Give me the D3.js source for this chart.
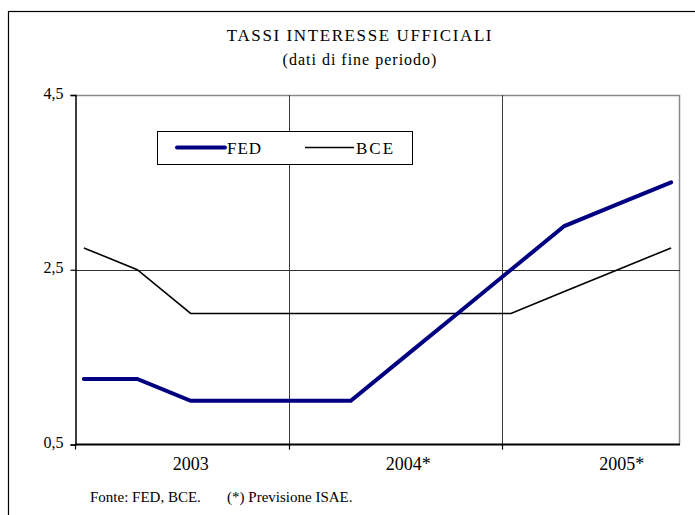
<!DOCTYPE html>
<html>
<head>
<meta charset="utf-8">
<script src="https://cdn.jsdelivr.net/npm/d3@7"></script>
<style>
  body { margin: 0; background: #fff; }
  svg { display: block; }
  svg text { font-family: "Liberation Serif", "DejaVu Serif", serif; }
</style>
</head>
<body>
<svg id="chart" width="695" height="515"></svg>
<script>
// quarterly end-of-period values (Jan, Apr, Jul, Oct)
const periods = ['2003-01', '2003-04', '2003-07', '2003-10',
                 '2004-01', '2004-04', '2004-07', '2004-10',
                 '2005-01', '2005-04', '2005-07', '2005-10'];
const fed = [1.25, 1.25, 1.0, 1.0, 1.0, 1.0, 1.5, 2.0, 2.5, 3.0, 3.25, 3.5];
const bce = [2.75, 2.5, 2.0, 2.0, 2.0, 2.0, 2.0, 2.0, 2.0, 2.25, 2.5, 2.75];

const years = ['2003', '2004*', '2005*'];
const yearLabelAt = ['2003-07', '2004-07', '2005-07'];
const yearStarts = ['2003-01', '2004-01', '2005-01'];
const yTicks = [0.5, 2.5, 4.5];

const svg = d3.select('#chart');
const serif = '"Liberation Serif", "DejaVu Serif", serif';
const margin = { left: 75, top: 95, right: 680, bottom: 444.5 };
const fmtMonth = d3.utcFormat('%Y-%m');
const months = d3.utcMonth.range(new Date(Date.UTC(2003, 0, 1)), new Date(Date.UTC(2005, 10, 1))).map(fmtMonth);

const x = d3.scaleBand().domain(months).range([margin.left, margin.right]);
const xc = (k) => x(k) + x.bandwidth() / 2;
const y = d3.scaleLinear().domain([0.5, 4.5]).range([margin.bottom, margin.top]);
const itFmt = d3.formatLocale({ decimal: ',', thousands: '.', grouping: [3], currency: ['', '€'] }).format('.1f');

// outer frame
svg.append('rect')
  .attr('x', 8.5).attr('y', 11.5).attr('width', 700).attr('height', 520)
  .attr('fill', 'none').attr('stroke', '#000').attr('stroke-width', 1.2);

// titles
svg.append('text').attr('x', 360).attr('y', 41).attr('text-anchor', 'middle')
  .attr('font-family', serif).attr('font-size', 17).attr('letter-spacing', 1.6).attr('fill', '#000')
  .text('TASSI INTERESSE  UFFICIALI');
svg.append('text').attr('x', 360).attr('y', 65).attr('text-anchor', 'middle')
  .attr('font-family', serif).attr('font-size', 16).attr('letter-spacing', 1).attr('fill', '#000')
  .text('(dati di fine periodo)');

// plot border (top/right grey)
svg.append('path')
  .attr('d', `M${margin.left},${margin.top + 0.5}H${margin.right - 0.5}V${margin.bottom}`)
  .attr('fill', 'none').attr('stroke', '#8a8a8a').attr('stroke-width', 1.5);

// vertical year grid lines
svg.append('g').selectAll('line')
  .data(yearStarts.slice(1))
  .join('line')
  .attr('x1', (d) => Math.round(x(d)) + 0.5).attr('x2', (d) => Math.round(x(d)) + 0.5)
  .attr('y1', margin.top).attr('y2', margin.bottom + 5)
  .attr('stroke', '#3a3a3a').attr('stroke-width', 1);

// horizontal grid
svg.append('g').selectAll('line')
  .data(yTicks.slice(1, -1))
  .join('line')
  .attr('x1', margin.left).attr('x2', margin.right)
  .attr('y1', (d) => Math.round(y(d)) + 0.5).attr('y2', (d) => Math.round(y(d)) + 0.5)
  .attr('stroke', '#333').attr('stroke-width', 1);

// y axis
const yAxis = svg.append('g')
  .attr('transform', `translate(${margin.left + 0.5},0)`)
  .call(d3.axisLeft(y).tickValues(yTicks).tickSize(5).tickPadding(7).tickFormat(itFmt));
yAxis.select('.domain').attr('stroke', '#000').attr('stroke-width', 1.5);
yAxis.selectAll('.tick line').attr('stroke', '#000').attr('stroke-width', 1.2);
yAxis.selectAll('.tick text')
  .attr('font-family', serif).attr('font-size', 16).attr('fill', '#000')
  .attr('dy', '0.2em');

// x axis line and year ticks
svg.append('line')
  .attr('x1', margin.left).attr('x2', margin.right)
  .attr('y1', margin.bottom).attr('y2', margin.bottom)
  .attr('stroke', '#000').attr('stroke-width', 1.8);
svg.append('g').selectAll('line')
  .data(yearStarts)
  .join('line')
  .attr('x1', (d) => Math.round(x(d)) + 0.5).attr('x2', (d) => Math.round(x(d)) + 0.5)
  .attr('y1', margin.bottom).attr('y2', margin.bottom + 5)
  .attr('stroke', '#000').attr('stroke-width', 1.2);
svg.append('g').selectAll('text')
  .data(years)
  .join('text')
  .attr('x', (d, i) => xc(yearLabelAt[i]) + (d.endsWith('*') ? 4 : 0))
  .attr('y', 470)
  .attr('text-anchor', 'middle').attr('font-family', serif).attr('font-size', 18).attr('fill', '#000')
  .text((d) => d);

// lines
const line = d3.line().x((d) => xc(d.k)).y((d) => y(d.v));
const toPts = (arr) => arr.map((v, i) => ({ k: periods[i], v }));

svg.append('path').datum(toPts(bce))
  .attr('d', line).attr('fill', 'none')
  .attr('stroke', '#000').attr('stroke-width', 1.6);
svg.append('path').datum(toPts(fed))
  .attr('d', line).attr('fill', 'none')
  .attr('stroke', '#000080').attr('stroke-width', 4).attr('stroke-linecap', 'round');

// legend
const lg = svg.append('g');
lg.append('rect').attr('x', 157.5).attr('y', 131.5).attr('width', 255).attr('height', 33)
  .attr('fill', '#fff').attr('stroke', '#000').attr('stroke-width', 1);
lg.append('line').attr('x1', 177).attr('x2', 225).attr('y1', 147.5).attr('y2', 147.5)
  .attr('stroke', '#000080').attr('stroke-width', 4).attr('stroke-linecap', 'round');
lg.append('text').attr('x', 227).attr('y', 153.5).attr('font-family', serif).attr('font-size', 17)
  .attr('letter-spacing', 1).attr('fill', '#000').text('FED');
lg.append('line').attr('x1', 305).attr('x2', 354).attr('y1', 147.5).attr('y2', 147.5)
  .attr('stroke', '#000').attr('stroke-width', 1.5);
lg.append('text').attr('x', 356).attr('y', 153.5).attr('font-family', serif).attr('font-size', 17)
  .attr('letter-spacing', 2).attr('fill', '#000').text('BCE');

// source note
svg.append('text').attr('x', 90).attr('y', 502).attr('font-family', serif).attr('font-size', 15)
  .attr('fill', '#000').attr('xml:space', 'preserve')
  .text('Fonte: FED, BCE.       (*) Previsione ISAE.');
</script>
</body>
</html>
